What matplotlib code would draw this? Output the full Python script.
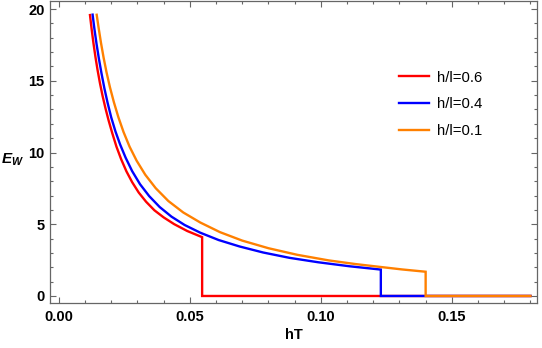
import matplotlib
matplotlib.use("Agg")
import matplotlib.pyplot as plt
from matplotlib.ticker import MultipleLocator, FormatStrFormatter

# Data
red_x = [0.0119, 0.0125, 0.0132, 0.0140, 0.0148, 0.0157, 0.0167, 0.0178, 0.0190, 0.0204,
         0.0220, 0.0238, 0.0258, 0.0280, 0.0305, 0.0333, 0.0365, 0.0400, 0.0440, 0.0490,
         0.0547, 0.0547, 0.18]
red_y = [19.58, 18.64, 17.65, 16.64, 15.74, 14.84, 13.95, 13.09, 12.24, 11.35,
         10.41, 9.53, 8.69, 7.93, 7.21, 6.57, 5.97, 5.48, 5.01, 4.53,
         4.10, 0.0, 0.0]

blue_x = [0.0129, 0.0136, 0.0144, 0.0153, 0.0163, 0.0174, 0.0186, 0.0200, 0.0216, 0.0234,
          0.0255, 0.0280, 0.0310, 0.0345, 0.0385, 0.0430, 0.0480, 0.0540, 0.0610, 0.0690,
          0.0780, 0.0880, 0.0990, 0.1110, 0.1229, 0.1229, 0.18]
blue_y = [19.61, 18.60, 17.57, 16.54, 15.51, 14.47, 13.48, 12.45, 11.48, 10.56,
          9.64, 8.70, 7.79, 6.96, 6.20, 5.53, 4.95, 4.41, 3.90, 3.45,
          3.03, 2.66, 2.35, 2.07, 1.84, 0.0, 0.0]

orange_x = [0.01446, 0.0152, 0.0161, 0.0171, 0.0182, 0.0195, 0.0210, 0.0227, 0.0247, 0.0270,
            0.0297, 0.0330, 0.0370, 0.0418, 0.0475, 0.0540, 0.0615, 0.0700, 0.0800, 0.0910,
            0.1030, 0.1130, 0.1229, 0.1310, 0.1400, 0.1400, 0.18]
orange_y = [19.60, 18.68, 17.64, 16.61, 15.60, 14.56, 13.52, 12.48, 11.43, 10.41,
            9.43, 8.45, 7.51, 6.62, 5.82, 5.12, 4.45, 3.86, 3.33, 2.87,
            2.48, 2.23, 2.02, 1.85, 1.69, 0.0, 0.0]

labels = ["h/l=0.6", "h/l=0.4", "h/l=0.1"]
colors = ["#FF0000", "#0000FF", "#FF8000"]

plt.rcParams['font.family'] = ['Liberation Sans', 'DejaVu Sans']
plt.rcParams['mathtext.fontset'] = 'custom'
plt.rcParams['mathtext.it'] = 'Liberation Sans:italic:bold'
plt.rcParams['mathtext.rm'] = 'Liberation Sans:bold'

fig = plt.figure(figsize=(5.42, 3.48), dpi=100)
ax = fig.add_axes([50/542, (348-303.3)/348, (537-50)/542, (303.3-1)/348])

for xs, ys, c, lab in zip([red_x, blue_x, orange_x], [red_y, blue_y, orange_y], colors, labels):
    ax.plot(xs, ys, color=c, lw=1.7, label=lab, solid_joinstyle='miter')

ax.set_xlim(-0.00336, 0.1825)
ax.set_ylim(-0.51, 20.56)

ax.xaxis.set_major_locator(MultipleLocator(0.05))
ax.xaxis.set_minor_locator(MultipleLocator(0.01))
ax.yaxis.set_major_locator(MultipleLocator(5))
ax.yaxis.set_minor_locator(MultipleLocator(1))
ax.xaxis.set_major_formatter(FormatStrFormatter('%.2f'))
ax.yaxis.set_major_formatter(FormatStrFormatter('%d'))

frame_c = '#666666'
for s in ax.spines.values():
    s.set_color(frame_c)
    s.set_linewidth(0.9)
ax.tick_params(which='both', direction='in', top=True, right=True, color=frame_c, width=0.8)
ax.tick_params(which='major', length=4)
ax.tick_params(which='minor', length=2.4)
ax.tick_params(axis='x', which='major', pad=5)
ax.tick_params(axis='y', which='major', pad=4)
for lbl in ax.get_xticklabels() + ax.get_yticklabels():
    lbl.set_fontweight('bold')
    lbl.set_fontsize(10.5)

ax.set_xlabel('hT', fontsize=10.5, fontweight='bold', labelpad=3)
fig.text(12/542, (348-160)/348, r'$E_W$', fontsize=11, ha='center', va='center')

leg = ax.legend(loc='center left', bbox_to_anchor=(399/542, (348-104.3)/348),
                bbox_transform=fig.transFigure, frameon=False, fontsize=10.7,
                handlelength=2.0, handletextpad=0.55, labelspacing=0.85,
                borderpad=0, borderaxespad=0)

fig.savefig('out.png', dpi=100)
